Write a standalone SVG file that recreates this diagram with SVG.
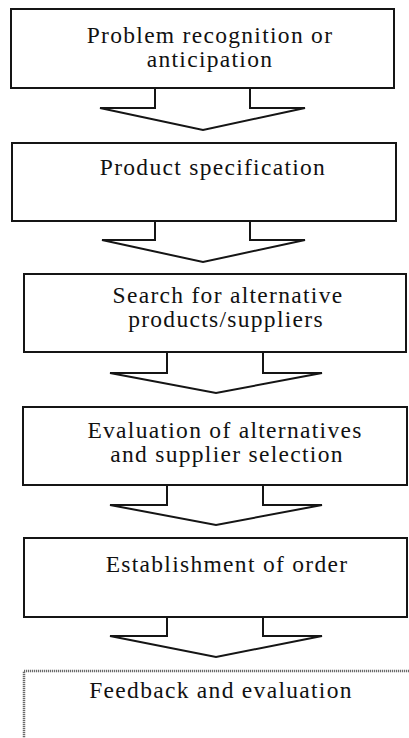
<svg xmlns="http://www.w3.org/2000/svg" width="409" height="738" viewBox="0 0 409 738">
<style>
.box{fill:#fff;stroke:#151515;stroke-width:2}
.box6{fill:#fff;stroke:#6a6a6a;stroke-width:2.5;stroke-dasharray:1.2 0.8}
.arr{fill:#fff;stroke:#151515;stroke-width:2;stroke-linejoin:miter}
.t{font-size:23.5px;fill:#111;text-anchor:middle;letter-spacing:1.3px}
</style>
<rect width="409" height="738" fill="#fff"/>
<g id="connectors">
<path class="arr" d="M155,88 V108 H100 L203,130 L305,108 H250 V88"/>
<path class="arr" d="M155,221 V240 H102 L203,262 L305,240 H250 V221"/>
<path class="arr" d="M167,352 V373 H110 L216,393 L322,373 H263 V352"/>
<path class="arr" d="M167,485 V505 H110 L216,525 L322,505 H263 V485"/>
<path class="arr" d="M167,617 V636 H110 L216,657 L322,636 H263 V617"/>
</g>
<g font-family="'Liberation Serif', 'Times New Roman', 'DejaVu Serif', serif">
<g id="n1">
<rect class="box" x="11" y="9" width="383" height="79"/>
<text class="t" x="210" y="43">Problem recognition or</text>
<text class="t" x="210" y="67">anticipation</text>
</g>
<g id="n2">
<rect class="box" x="12" y="143" width="384" height="78"/>
<text class="t" x="213" y="175">Product specification</text>
</g>
<g id="n3">
<rect class="box" x="24" y="274" width="382" height="78"/>
<text class="t" x="228" y="303">Search for alternative</text>
<text class="t" x="226" y="327">products/suppliers</text>
</g>
<g id="n4">
<rect class="box" x="23" y="407" width="384" height="78"/>
<text class="t" x="225" y="438">Evaluation of alternatives</text>
<text class="t" x="227" y="462">and supplier selection</text>
</g>
<g id="n5">
<rect class="box" x="24" y="538" width="383" height="79"/>
<text class="t" x="227" y="572">Establishment of order</text>
</g>
<g id="n6">
<rect class="box6" x="24" y="671" width="400" height="90"/>
<text class="t" x="221" y="698">Feedback and evaluation</text>
</g>
</g>
</svg>
